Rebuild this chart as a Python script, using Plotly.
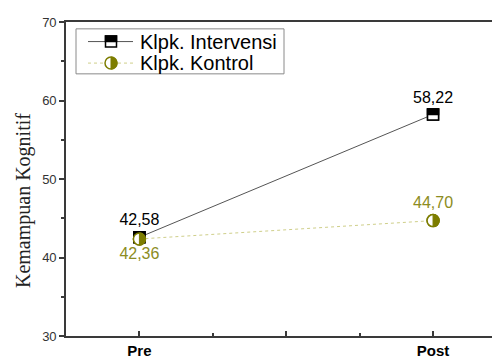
import plotly.graph_objects as go

# ---- data ----
phases = ["Pre", "Post"]
phase_pos = [1, 2]
groups = ["Klpk. Intervensi", "Klpk. Kontrol"]
intervensi = [42.58, 58.22]
kontrol = [42.36, 44.70]
y_ticks = [30, 40, 50, 60, 70]
y_title = "Kemampuan Kognitif"

# ---- style ----
W, H = 500, 360
OFF = 8  # page body margin offset of the figure inside the window
# plot area in window pixels, converted to figure pixels
PL, PR, PT, PB = 66 - OFF, 500 - OFF, 15 - OFF, 336 - OFF
OLIVE = "#7d7d00"
OLIVE_TXT = "#8c8c22"
KON_LINE = "#cfcf8a"
INT_LINE = "#555555"
AX = "#3a3a3a"


def fmt(v):
    return f"{v:.2f}".replace(".", ",")


def px2x(px):
    return (px - OFF - PL) / (PR - PL)


def py2y(py):
    return (PB - (py - OFF)) / (PB - PT)


fig = go.Figure()
fig.add_trace(go.Scatter(
    x=phase_pos, y=intervensi, mode="lines+markers+text", name=groups[0],
    line=dict(color=INT_LINE, width=1),
    marker=dict(symbol="square", size=11, color="white", line=dict(color="black", width=1.5)),
    text=[fmt(v) for v in intervensi], textposition=["top center", "top center"],
    textfont=dict(family="Arial", size=16, color="black"), showlegend=False))
fig.add_trace(go.Scatter(
    x=phase_pos, y=kontrol, mode="lines+markers+text", name=groups[1],
    line=dict(color=KON_LINE, width=1, dash="dot"),
    marker=dict(symbol="circle", size=12, color="white", line=dict(color=OLIVE, width=1.5)),
    text=[fmt(v) for v in kontrol], textposition=["bottom center", "top center"],
    textfont=dict(family="Arial", size=16, color=OLIVE_TXT), showlegend=False))

shapes = []
R = 6
k = 0.5523 * R
half_circle = (f"M0,{-R} C{k:.2f},{-R} {R},{-k:.2f} {R},0 "
               f"C{R},{k:.2f} {k:.2f},{R} 0,{R} Z")


def square_marker(xref, yref, xa, ya):
    return [
        dict(type="rect", xref=xref, yref=yref, xsizemode="pixel", ysizemode="pixel",
             xanchor=xa, yanchor=ya, x0=-5.5, x1=5.5, y0=-5.5, y1=5.5,
             fillcolor="white", line=dict(color="black", width=1.5), layer="above"),
        dict(type="rect", xref=xref, yref=yref, xsizemode="pixel", ysizemode="pixel",
             xanchor=xa, yanchor=ya, x0=-5.5, x1=5.5, y0=0, y1=5.5,
             fillcolor="black", line=dict(color="black", width=1.5), layer="above"),
    ]


def circle_marker(xref, yref, xa, ya):
    return [
        dict(type="circle", xref=xref, yref=yref, xsizemode="pixel", ysizemode="pixel",
             xanchor=xa, yanchor=ya, x0=-R, x1=R, y0=-R, y1=R,
             fillcolor="white", line=dict(color=OLIVE, width=1.5), layer="above"),
        dict(type="path", xref=xref, yref=yref, xsizemode="pixel", ysizemode="pixel",
             xanchor=xa, yanchor=ya, path=half_circle,
             fillcolor=OLIVE, line=dict(color=OLIVE, width=1), layer="above"),
    ]


# data markers (anchored to data values)
for xv, yv in zip(phase_pos, intervensi):
    shapes += square_marker("x", "y", xv, yv)
for xv, yv in zip(phase_pos, kontrol):
    shapes += circle_marker("x", "y", xv, yv)

# manual legend (window pixel targets)
shapes.append(dict(type="rect", xref="paper", yref="paper",
                   x0=px2x(76), x1=px2x(284), y0=py2y(68), y1=py2y(22),
                   fillcolor="white", line=dict(color="#8a8a8a", width=1), layer="above"))
leg_rows = [35, 57]
shapes.append(dict(type="line", xref="paper", yref="paper", x0=px2x(88), x1=px2x(133),
                   y0=py2y(leg_rows[0]), y1=py2y(leg_rows[0]),
                   line=dict(color=INT_LINE, width=1), layer="above"))
shapes.append(dict(type="line", xref="paper", yref="paper", x0=px2x(88), x1=px2x(133),
                   y0=py2y(leg_rows[1]), y1=py2y(leg_rows[1]),
                   line=dict(color=KON_LINE, width=1, dash="dot"), layer="above"))
shapes += square_marker("paper", "paper", px2x(111), py2y(leg_rows[0]))
shapes += circle_marker("paper", "paper", px2x(111), py2y(leg_rows[1]))

annotations = [
    dict(text=groups[0], xref="paper", yref="paper", x=px2x(138), y=py2y(leg_rows[0]),
         xanchor="left", yanchor="middle", showarrow=False,
         font=dict(family="Arial", size=20, color="black")),
    dict(text=groups[1], xref="paper", yref="paper", x=px2x(138), y=py2y(leg_rows[1]),
         xanchor="left", yanchor="middle", showarrow=False,
         font=dict(family="Arial", size=20, color="black")),
    dict(text=y_title, xref="paper", yref="paper", x=px2x(23), y=py2y(198),
         xanchor="center", yanchor="middle", textangle=-90, showarrow=False,
         font=dict(family="Liberation Serif, Times New Roman, serif", size=20, color="#222")),
]

fig.update_layout(
    width=W, height=H,
    margin=dict(l=PL, r=W - PR, t=PT, b=H - PB),
    paper_bgcolor="white", plot_bgcolor="white",
    showlegend=False,
    shapes=shapes, annotations=annotations,
    xaxis=dict(range=[0.75, 2.228], tickvals=[1, 1.5, 2], ticktext=[phases[0], "", phases[1]],
               ticks="inside", ticklen=5, tickwidth=1.5, tickcolor=AX,
               minor=dict(tickvals=[1.25, 1.75], ticks="inside", ticklen=3, tickwidth=1.5, tickcolor=AX),
               showline=True, linecolor=AX, linewidth=1.6, mirror=True,
               showgrid=False, zeroline=False,
               tickfont=dict(family="Arial", size=15, color="black", weight="bold")),
    yaxis=dict(range=[30, 70], tickvals=y_ticks,
               ticks="outside", ticklen=5, tickwidth=1.5, tickcolor=AX,
               minor=dict(dtick=5, ticks="outside", ticklen=3, tickwidth=1.5, tickcolor=AX),
               showline=True, linecolor=AX, linewidth=1.6,
               showgrid=False, zeroline=False,
               tickfont=dict(family="Arial", size=13, color="#333")),
)

fig.write_html("out.html")
